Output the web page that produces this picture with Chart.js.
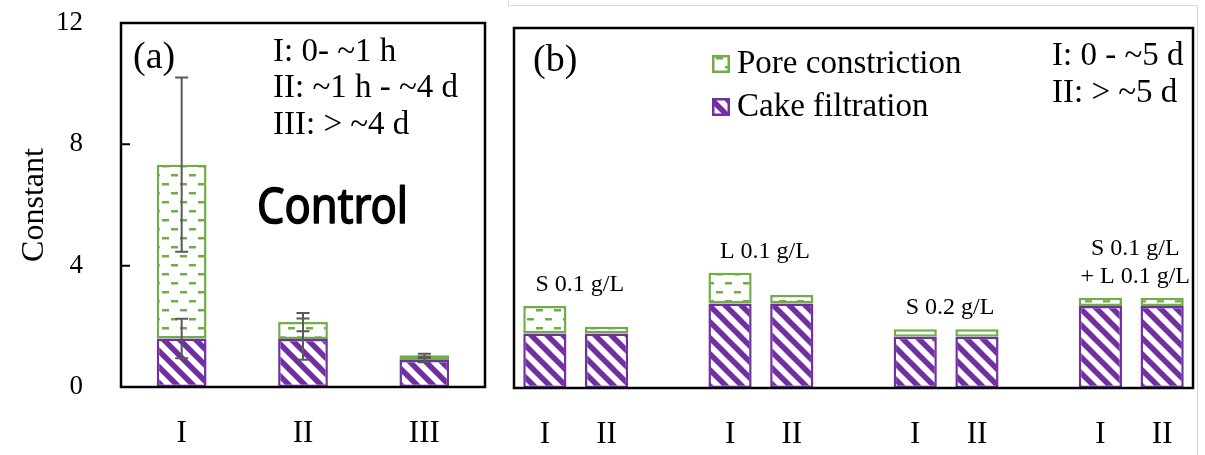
<!DOCTYPE html>
<html>
<head>
<meta charset="utf-8">
<script src="https://cdn.jsdelivr.net/npm/chart.js@4.4.1/dist/chart.umd.min.js"></script>
<style>
  html, body { margin: 0; padding: 0; background: #fff; }
  #wrap { position: relative; width: 1205px; height: 455px; overflow: hidden; }
  #chartA { position: absolute; left: 0; top: 0; }
  #chartB { position: absolute; left: 500px; top: 0; }
</style>
</head>
<body>
<div id="wrap">
  <canvas id="chartA" width="500" height="455"></canvas>
  <canvas id="chartB" width="705" height="455"></canvas>
</div>
<script>
// ---- data, panel (a) control ----
const controlPhases = ['I', 'II', 'III'];
const controlCake = [1.6, 1.58, 0.89];
const controlPore = [5.73, 0.56, 0.16];
const controlCakeErr = [0.65, 0.68, 0.07];
const controlPoreErr = [2.87, 0.3, 0.05];
const controlNotes = ['I: 0- ~1 h', 'II: ~1 h - ~4 d', 'III: > ~4 d'];

// ---- data, panel (b) treatments (empty slots separate the groups) ----
const treatPhases = ['I', 'II', '', 'I', 'II', '', 'I', 'II', '', 'I', 'II'];
const treatCake = [1.82, 1.82, null, 2.82, 2.82, null, 1.71, 1.71, null, 2.73, 2.73];
const treatPore = [0.91, 0.22, null, 1.02, 0.28, null, 0.25, 0.25, null, 0.28, 0.28];
const treatGroups = [['S 0.1 g/L'], ['L 0.1 g/L'], ['S 0.2 g/L'], ['S 0.1 g/L', '+ L 0.1 g/L']];
const treatNotes = ['I: 0 - ~5 d', 'II: > ~5 d'];

const yTicks = [0, 4, 8, 12];
const seriesNames = ['Cake filtration', 'Pore constriction'];

const PURPLE = '#7030a0';
const GREEN = '#70ad47';
const ERR = '#595959';
const SERIF = '"Liberation Serif", "Times New Roman", serif';

Chart.defaults.font.family = SERIF;
Chart.defaults.color = '#000';

// hatch fills
function stripeFill(color) {
  const s = 16;
  const c = document.createElement('canvas');
  c.width = s; c.height = s;
  const g = c.getContext('2d');
  g.fillStyle = '#fff';
  g.fillRect(0, 0, s, s);
  g.strokeStyle = color;
  g.lineWidth = 5.5;
  g.beginPath();
  for (let k = -1; k <= 1; k++) {
    g.moveTo(k * s - 2, -2);
    g.lineTo(k * s + s + 2, s + 2);
  }
  g.stroke();
  return g.createPattern(c, 'repeat');
}

function dashFill(color) {
  const c = document.createElement('canvas');
  c.width = 18; c.height = 18;
  const g = c.getContext('2d');
  g.fillStyle = '#fff';
  g.fillRect(0, 0, 18, 18);
  g.fillStyle = color;
  g.fillRect(0, 3, 7, 2.5);
  g.fillRect(9, 12, 7, 2.5);
  return g.createPattern(c, 'repeat');
}

const cakeFill = stripeFill(PURPLE);
const poreFill = dashFill(GREEN);

function makeDatasets(cake, pore, barPct, cakeErr, poreErr) {
  return [
    { label: seriesNames[0], data: cake, errors: cakeErr, backgroundColor: cakeFill, borderColor: PURPLE,
      borderWidth: 2.5, borderSkipped: false, barPercentage: barPct, categoryPercentage: 1 },
    { label: seriesNames[1], data: pore, errors: poreErr, backgroundColor: poreFill, borderColor: GREEN,
      borderWidth: 2.5, borderSkipped: false, barPercentage: barPct, categoryPercentage: 1 }
  ];
}

function text(ctx, str, x, y, size, opts) {
  opts = opts || {};
  ctx.save();
  ctx.font = size + 'px ' + (opts.family || SERIF);
  ctx.fillStyle = '#000';
  ctx.textBaseline = 'middle';
  ctx.textAlign = opts.align || 'left';
  ctx.translate(x, y);
  if (opts.width) {
    const w = ctx.measureText(str).width;
    ctx.scale(opts.width / w, 1);
  }
  ctx.fillText(str, 0, 0);
  if (opts.heavy) {
    ctx.strokeStyle = '#000';
    ctx.lineWidth = opts.heavy;
    ctx.lineJoin = 'round';
    ctx.strokeText(str, 0, 0);
  }
  ctx.restore();
}

// frame + error bars
const framePlugin = {
  id: 'frame',
  afterDatasetsDraw(chart, args, opts) {
    const ctx = chart.ctx;
    const a = chart.chartArea;
    const y = chart.scales.y;
    ctx.save();
    // error bars centred on the top of each stacked segment
    chart.data.datasets.forEach((ds, i) => {
      if (!ds.errors) return;
      const meta = chart.getDatasetMeta(i);
      meta.data.forEach((bar, j) => {
        if (ds.data[j] == null || !ds.errors[j]) return;
        let top = 0;
        for (let k = 0; k <= i; k++) top += chart.data.datasets[k].data[j];
        const y1 = y.getPixelForValue(top + ds.errors[j]);
        const y2 = y.getPixelForValue(top - ds.errors[j]);
        ctx.strokeStyle = ERR;
        ctx.lineWidth = 2;
        ctx.beginPath();
        ctx.moveTo(bar.x, y1); ctx.lineTo(bar.x, y2);
        ctx.moveTo(bar.x - 6.5, y1); ctx.lineTo(bar.x + 6.5, y1);
        ctx.moveTo(bar.x - 6.5, y2); ctx.lineTo(bar.x + 6.5, y2);
        ctx.stroke();
      });
    });
    if (opts.innerTicks) {
      ctx.strokeStyle = '#000';
      ctx.lineWidth = 2;
      ctx.beginPath();
      yTicks.forEach(v => {
        const p = y.getPixelForValue(v);
        ctx.moveTo(a.left, p); ctx.lineTo(a.left + 9, p);
      });
      ctx.stroke();
    }
    ctx.strokeStyle = '#000';
    ctx.lineWidth = 2.5;
    ctx.strokeRect(a.left, a.top, a.right - a.left, a.bottom - a.top);
    ctx.restore();
  }
};

const notesA = {
  id: 'notesA',
  afterDraw(chart) {
    const ctx = chart.ctx;
    const a = chart.chartArea;
    text(ctx, '(a)', a.left + 12, a.top + 35, 38);
    controlNotes.forEach((t, i) => text(ctx, t, a.left + 152, a.top + 29 + i * 36.5, 33));
    text(ctx, 'Control', a.left + 136, a.top + 186, 50, { family: '"Noto Sans", sans-serif', width: 151, heavy: 1.6 });
  }
};

const notesB = {
  id: 'notesB',
  afterDraw(chart) {
    const ctx = chart.ctx;
    const a = chart.chartArea;
    const y = chart.scales.y;
    // light outer outline
    ctx.save();
    ctx.strokeStyle = '#d6d6d6';
    ctx.lineWidth = 1;
    ctx.beginPath();
    ctx.moveTo(8.5, 0); ctx.lineTo(8.5, 5.5); ctx.lineTo(697.5, 5.5); ctx.lineTo(697.5, 455);
    ctx.stroke();
    ctx.restore();

    text(ctx, '(b)', a.left + 19, 61, 38);
    treatNotes.forEach((t, i) => text(ctx, t, a.left + 538, 56 + i * 37, 33));

    // legend: pore first, cake second
    const legend = [1, 0];
    legend.forEach((di, row) => {
      const ds = chart.data.datasets[di];
      const cy = 64 + row * 43;
      const bx = a.left + 198;
      ctx.save();
      ctx.fillStyle = ds.backgroundColor;
      ctx.fillRect(bx, cy - 9, 18, 18);
      ctx.strokeStyle = ds.borderColor;
      ctx.lineWidth = 2.5;
      ctx.strokeRect(bx + 1.25, cy - 7.75, 15.5, 15.5);
      ctx.restore();
      text(ctx, ds.label, bx + 25, cy, 33);
    });

    // group labels above each pair of bars
    const m0 = chart.getDatasetMeta(0);
    treatGroups.forEach((lines, g) => {
      const i0 = g * 3, i1 = g * 3 + 1;
      const cx = (m0.data[i0].x + m0.data[i1].x) / 2 + 4;
      const maxTop = Math.max(treatCake[i0] + treatPore[i0], treatCake[i1] + treatPore[i1]);
      const base = y.getPixelForValue(maxTop) - 21;
      lines.forEach((t, k) => {
        text(ctx, t, cx, base - (lines.length - 1 - k) * 28, 24, { align: 'center' });
      });
    });
  }
};

new Chart(document.getElementById('chartA'), {
  type: 'bar',
  data: {
    labels: controlPhases,
    datasets: makeDatasets(controlCake, controlPore, 0.41, controlCakeErr, controlPoreErr)
  },
  options: {
    responsive: false,
    animation: false,
    layout: { padding: { left: 0, right: 15, top: 23, bottom: 0 } },
    plugins: { legend: { display: false }, tooltip: { enabled: false }, frame: { innerTicks: true } },
    scales: {
      x: {
        stacked: true,
        grid: { display: false },
        border: { display: false },
        ticks: { font: { size: 31 }, color: '#000', padding: 20 },
        afterFit(s) { s.height = 68; }
      },
      y: {
        stacked: true,
        min: 0,
        max: 12,
        afterBuildTicks(s) { s.ticks = yTicks.map(v => ({ value: v })); },
        grid: { display: false },
        border: { display: false },
        ticks: { font: { size: 27 }, color: '#000', padding: 30 },
        title: { display: true, text: 'Constant', font: { size: 32 }, color: '#000', padding: { top: 15, bottom: 0 } },
        afterFit(s) { s.width = 121; s.paddingTop = 0; s.paddingBottom = 0; }
      }
    }
  },
  plugins: [framePlugin, notesA]
});

new Chart(document.getElementById('chartB'), {
  type: 'bar',
  data: {
    labels: treatPhases,
    datasets: makeDatasets(treatCake, treatPore, 0.7)
  },
  options: {
    responsive: false,
    animation: false,
    layout: { padding: { left: 14, right: 12, top: 28, bottom: 0 } },
    plugins: { legend: { display: false }, tooltip: { enabled: false }, frame: { innerTicks: false } },
    scales: {
      x: {
        stacked: true,
        grid: { display: false },
        border: { display: false },
        ticks: { font: { size: 31 }, color: '#000', padding: 20, autoSkip: false, maxRotation: 0 },
        afterFit(s) { s.height = 67; }
      },
      y: { stacked: true, min: 0, max: 12, display: false }
    }
  },
  plugins: [framePlugin, notesB]
});
</script>
</body>
</html>
